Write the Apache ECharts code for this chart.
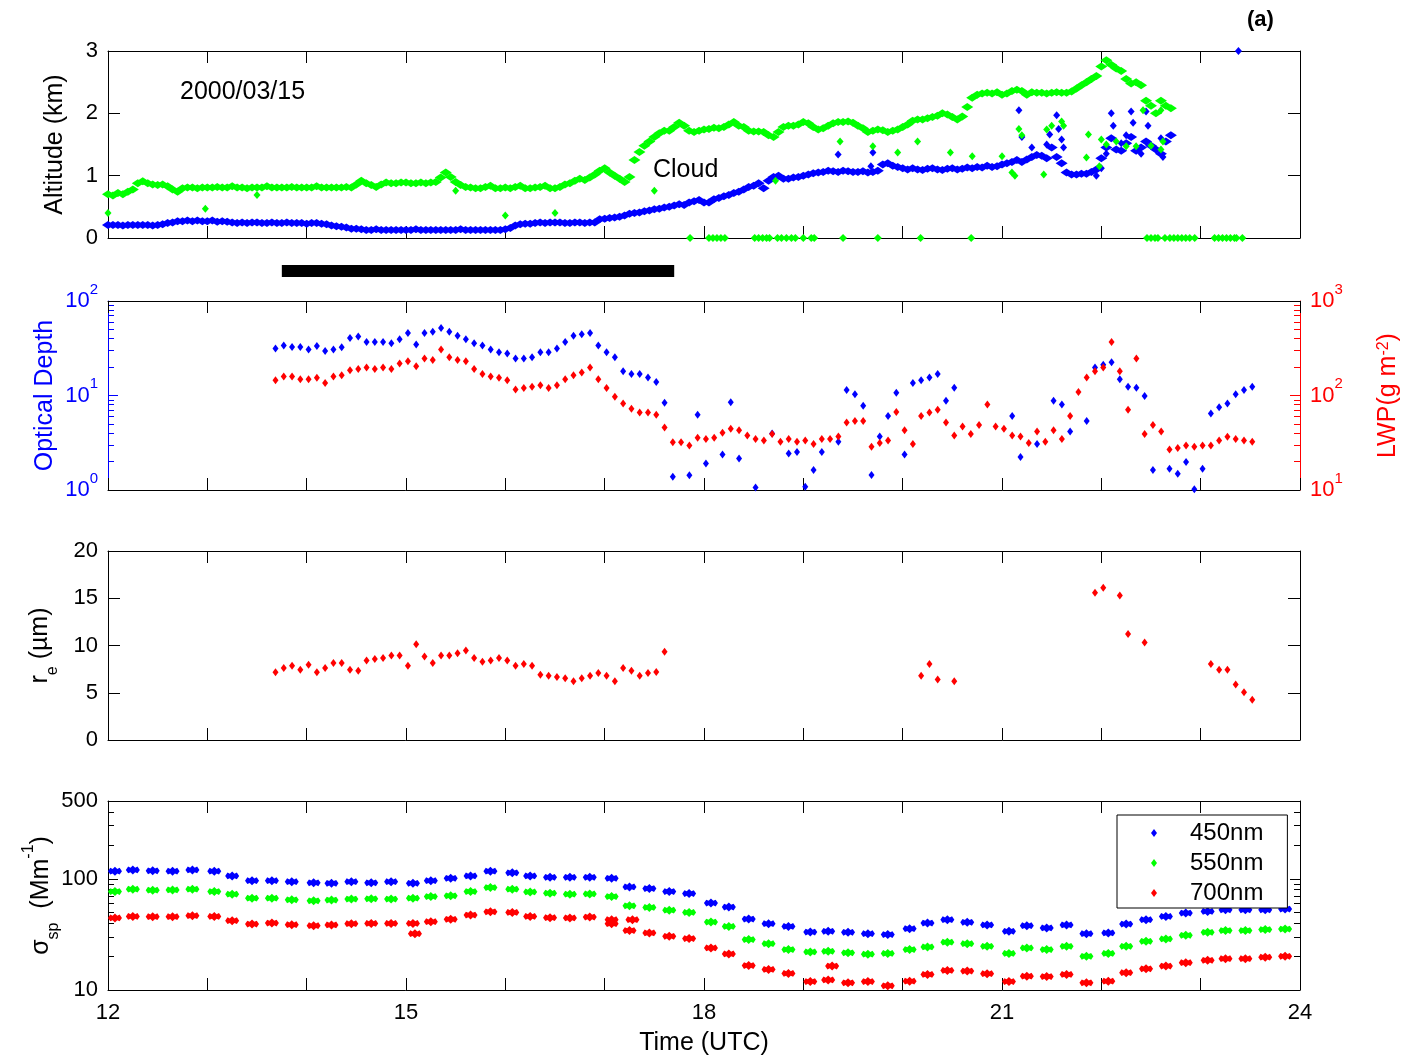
<!DOCTYPE html>
<html>
<head>
<meta charset="utf-8">
<script src="https://cdn.jsdelivr.net/npm/echarts@6/dist/echarts.min.js"></script>
<style>
  html, body { margin: 0; padding: 0; background: #fff; }
  #chart { width: 1423px; height: 1061px; }
</style>
</head>
<body>
<div id="chart"></div>
<script>
// ---------------------------------------------------------------
// Cloud and aerosol time series, 2000/03/15, 12-24 UTC
// ---------------------------------------------------------------

const timeTickLabels = [12, 15, 18, 21, 24];

// (1) Cloud boundaries (km), 3-minute records starting at 12:00 UTC
const altStart = 12.0;
const altStep = 0.05;
const cloudBase = [
  0.21,0.21,0.21,0.20,0.21,0.21,0.21,0.21,0.21,0.20,0.21,0.22,0.24,
  0.25,0.27,0.27,0.28,0.27,0.28,0.27,0.27,0.28,0.26,0.27,0.26,
  0.25,0.24,0.25,0.24,0.25,0.25,0.24,0.24,0.25,0.24,0.24,0.25,0.24,0.24,0.24,0.23,0.24,0.24,0.23,0.22,
  0.20,0.19,0.18,0.17,0.15,0.15,0.14,
  0.13,0.13,0.14,0.13,0.13,0.13,0.13,0.13,0.13,0.13,
  0.14,0.13,0.13,0.13,0.13,0.13,0.13,0.13,0.13,0.14,
  0.13,0.13,0.13,0.13,0.13,0.13,0.13,0.13,0.14,
  0.16,0.20,0.22,0.23,0.23,0.24,0.25,0.24,0.25,0.25,0.25,0.24,0.24,0.25,0.25,0.24,0.25,0.25,
  0.30,0.31,0.32,0.33,0.34,0.36,
  0.39,0.40,0.41,0.43,0.44,0.46,0.47,0.49,0.50,
  0.52,0.54,0.53,0.57,0.59,0.61,
  0.57,0.57,0.62,0.64,0.67,0.69,0.72,0.74,0.78,0.82,0.84,0.88,
  0.80,0.92,0.98,1.00,0.95,0.95,0.97,0.98,1.00,1.02,1.04,1.05,
  1.06,1.08,1.07,1.06,1.08,1.07,1.06,1.06,1.07,1.05,1.06,1.08,
  1.18,1.20,1.16,1.14,1.12,1.10,1.12,1.10,1.09,1.11,1.12,1.10,
  1.09,1.11,1.12,1.10,1.11,1.13,1.12,1.14,1.13,1.16,1.14,1.15,
  1.18,1.20,1.22,1.25,1.22,1.26,1.30,1.33,1.32,1.28,1.45,1.30,
  1.20,1.05,1.02,1.02,1.03,1.03,1.06,1.10,1.28,1.45,1.60,1.42,
  1.40,1.52,1.62,1.40,1.45,1.55,1.48,1.42,1.35,1.55,1.65
];
const cloudTop = [
  0.70,0.68,0.72,0.70,0.74,0.78,
  0.88,0.91,0.88,0.86,0.85,0.86,0.83,0.78,0.74,0.80,
  0.81,0.81,0.80,0.81,0.81,0.81,0.82,0.81,0.81,0.83,0.81,0.81,0.80,0.81,0.81,0.81,0.83,
  0.81,0.81,0.81,0.81,0.82,0.81,0.81,0.81,0.81,0.83,0.81,0.81,0.81,0.81,0.81,0.82,0.81,
  0.86,0.92,0.88,0.85,0.82,0.86,0.89,0.88,0.88,0.89,0.89,0.88,0.88,0.89,0.88,0.89,0.90,0.97,1.05,
  0.98,0.90,0.85,0.82,0.81,0.80,0.80,0.82,0.84,0.80,0.80,0.81,0.80,0.82,0.84,0.80,0.80,0.81,0.82,0.84,0.80,0.80,
  0.82,0.86,0.88,0.92,0.95,0.93,0.97,1.02,1.08,1.12,1.05,1.00,0.95,0.90,
  0.98,1.25,1.38,1.48,1.55,1.62,1.68,1.72,1.72,1.78,1.85,1.80,1.72,1.70,1.72,
  1.74,1.75,1.77,1.76,1.78,1.82,1.86,1.80,1.78,1.72,1.71,1.71,
  1.70,1.65,1.62,1.70,1.78,1.80,1.80,1.82,1.86,1.84,1.78,1.74,
  1.76,1.80,1.84,1.86,1.86,1.87,1.85,1.80,1.76,1.70,1.72,1.74,
  1.73,1.70,1.72,1.74,1.78,1.82,1.88,1.90,1.90,1.92,1.94,1.96,
  2.00,1.98,1.94,1.90,1.95,2.10,2.25,2.30,2.32,2.33,2.32,2.34,
  2.30,2.32,2.36,2.38,2.36,2.30,2.34,2.33,2.33,2.32,2.33,2.34,
  2.33,2.33,2.35,2.40,2.45,2.50,2.55,2.60,2.75,2.85,2.78,2.72,
  2.68,2.55,2.48,2.50,2.45,2.20,2.12,2.00,2.20,2.12,2.08
];
// isolated cloud-base returns [time, km]
const cloudBaseExtra = [
  [19.35,1.34],[19.68,1.15],[19.70,1.37],[21.17,2.05],[21.20,1.62],[21.30,1.45],
  [21.45,1.50],[21.48,1.66],[21.55,1.97],[21.57,1.75],[21.60,1.58],[21.62,1.45],
  [21.95,1.00],[22.00,1.12],[22.05,1.35],[22.10,2.00],[22.12,1.80],[22.20,1.52],
  [22.25,1.65],[22.30,2.03],[22.32,1.85],[22.40,1.35],[22.45,2.03],[22.47,1.80],
  [22.60,1.60],[22.62,1.30],[23.38,3.00]
];
// isolated cloud-top returns [time, km]
const cloudTopExtra = [
  [12.00,0.40],[12.98,0.47],[13.50,0.69],[15.50,0.76],[16.00,0.36],[16.50,0.40],
  [17.50,0.76],[18.72,0.92],[19.37,1.55],[19.70,1.47],[19.95,1.37],[20.15,1.55],
  [20.48,1.37],[20.70,1.31],[21.00,1.31],[21.10,1.05],[21.13,1.00],[21.17,1.75],
  [21.20,1.65],[21.42,1.02],[21.45,1.74],[21.50,1.80],[21.60,1.87],[21.62,1.80],
  [21.85,1.29],[21.87,1.66],[21.98,1.15],[22.00,1.58],[22.05,1.50],[22.15,1.55],
  [22.25,1.47],[22.35,1.47],[22.50,1.48],[22.60,1.42],[22.62,1.55],[22.42,2.05],
  [22.60,2.05]
];
// times where the top detection fell to the ground (0 km)
const cloudTopZeroTimes = [
  17.86,18.05,18.09,18.13,18.17,18.21,18.51,18.55,18.59,18.63,18.66,18.74,18.78,
  18.83,18.88,18.92,19.00,19.08,19.11,19.40,19.75,20.18,20.69,22.46,22.50,22.54,
  22.57,22.64,22.69,22.73,22.77,22.81,22.85,22.89,22.94,23.14,23.18,23.22,23.26,
  23.30,23.34,23.36,23.42
];

// sampling period bar (UTC hours)
const samplingPeriod = [13.75, 17.70];

// (2)/(3) Retrievals on a 5-minute grid starting 13:41 UTC
const retStart = 13.686;
const retStep = 5 / 60;
const opticalDepth = [
  31.4,33.8,32.7,32.7,30.6,33.5,29.6,30.6,32.4,40.7,
  42.0,36.9,36.9,36.9,35.7,39.4,45.9,34.6,45.9,47.4,
  51.9,47.4,43.0,39.4,35.7,33.8,30.6,28.7,27.8,24.6,
  24.6,25.4,28.7,28.7,31.4,36.9,43.0,44.4,45.9,33.8,
  28.7,25.4,18.1,16.9,16.9,15.5,13.9,8.4,1.38,null,
  1.43,6.25,1.91,null,2.38,8.5,2.16,null,1.06,null,
  3.97,null,2.44,2.52,1.08,1.63,2.52,null,3.24,11.4,
  10.3,7.78,1.44,3.69,6.05,10.7,2.38,13.6,14.5,15.5,
  16.9,8.8,12.1,null,null,null,null,null,null,6.05,
  2.23,null,3.06,null,8.8,8.03,4.17,null,5.36,19.8,
  21.1,22.5,14.9,12.4,12.1,9.9,1.63,null,1.68,1.49,
  1.98,1.02,1.68,6.46,7.53,8.23,10.3,11.4,12.4
];
const lwp = [
  145,159,159,149,149,154,136,159,164,185,
  191,198,191,198,191,218,231,204,246,238,
  306,254,238,231,191,169,159,154,145,116,
  120,124,128,120,128,149,164,175,198,149,
  120,96.8,82.3,72.3,66.1,66.1,62.5,45.9,32.1,32.1,
  29.6,35.7,34.6,35.7,40.4,44.5,43.0,37.8,34.6,33.5,
  39.1,32.4,34.6,32.4,33.5,30.6,34.6,34.6,36.9,51.9,
  53.6,53.6,28.7,31.4,33.5,66.7,43.0,30.6,60.5,66.1,
  70.6,51.9,37.8,47.1,39.1,48.6,80.4,47.1,44.5,37.8,
  36.9,31.4,41.7,32.4,43.0,34.6,60.5,109,155,181,
  198,369,181,70.6,246,39.1,48.6,41.7,26.9,27.8,
  29.6,28.7,29.6,29.6,33.5,36.5,34.6,33.5,32.4
];
const effRadius = [
  7.16,7.61,7.86,7.44,7.96,7.16,7.61,8.14,8.14,7.44,
  7.33,8.42,8.56,8.67,8.95,8.95,7.86,10.14,8.84,8.14,
  8.95,8.95,9.19,9.47,8.67,8.28,8.42,8.67,8.42,7.86,
  8.04,7.86,6.91,6.81,6.67,6.53,6.21,6.53,6.81,7.09,
  6.81,6.21,7.61,7.33,6.81,7.09,7.19,9.33,
  null,null,null,null,null,null,null,null,null,null,
  null,null,null,null,null,null,null,null,null,null,
  null,null,null,null,null,null,null,null,null,null,
  6.81,8.04,6.39,null,6.21,
  null,null,null,null,null,null,null,null,null,null,null,null,null,null,null,null,
  15.58,16.11,null,15.30,11.23,null,10.32,
  null,null,null,null,null,null,null,
  8.04,7.44,7.44,5.86,5.05,4.25
];

// (4) Scattering coefficient (Mm^-1), segment mean times
const scatTimes = [
  12.07,12.25,12.45,12.65,12.85,13.07,13.25,13.45,13.65,13.85,
  14.07,14.25,14.45,14.65,14.85,15.07,15.25,15.45,15.65,15.85,
  16.07,16.25,16.45,16.65,16.85,17.07,17.25,17.45,17.65,17.85,
  18.07,18.25,18.45,18.65,18.85,19.07,19.25,19.45,19.65,19.85,
  20.07,20.25,20.45,20.65,20.85,21.07,21.25,21.45,21.65,21.85,
  22.07,22.25,22.45,22.65,22.85,23.07,23.25,23.45,23.65,23.85
];
const scat450 = [
  117,120,118,117,120,117,106,96,96,94,
  92,91,94,92,94,91,96,101,106,117,
  113,106,103,103,103,101,84.5,81.7,76.8,73.6,
  60.4,55.6,43.4,39.5,37.3,33.2,33.7,33.0,32.1,31.5,
  35.6,40.0,42.9,40.6,38.4,33.7,37.9,36.1,38.4,32.1,
  32.6,39.2,42.9,45.9,49.2,50.9,52.6,52.6,52.6,53.4
];
const scat550 = [
  76.8,80.5,78.9,79.4,80.5,76.8,72.6,66.9,66.9,64.7,
  63.4,64.3,65.6,66.1,65.6,66.9,69.2,70.2,76.8,83.4,
  80.5,76.2,74.1,72.6,73.1,69.2,57.1,55.2,52.2,49.8,
  40.8,37.3,28.4,26.1,23.1,22.0,22.3,21.6,21.0,21.3,
  23.1,24.4,26.9,26.1,24.7,21.3,23.9,23.1,24.7,20.1,
  21.3,24.7,27.4,28.8,31.0,33.0,34.2,34.2,34.9,35.3
];
const scat700 = [
  44.4,45.9,45.6,45.6,46.6,45.9,42.0,39.2,40.0,38.6,
  37.9,38.4,39.5,39.7,39.7,39.7,41.1,43.2,47.2,50.5,
  49.8,45.9,44.7,44.4,45.3,42.9,34.2,32.6,30.4,29.0,
  23.9,21.1,16.6,15.3,14.1,11.9,12.3,11.6,11.9,10.9,
  12.0,13.8,15.0,14.8,14.0,11.9,13.3,13.2,13.8,11.6,
  12.0,14.3,15.5,16.4,17.6,18.5,19.1,19.1,19.7,20.1
];
const scat700Extra = [[15.09,32.1],[17.07,39.5],[17.28,42.9],[19.29,16.4]];

// log-axis minor tick positions
const minorTau = [2,3,4,5,6,7,8,9,20,30,40,50,60,70,80,90];
const minorLwp = [20,30,40,50,60,70,80,90,200,300,400,500,600,700,800,900];
const minorScat = [20,30,40,50,60,70,80,90,200,300,400];
const scatLabels = [10, 100, 500];

// ---------------------------------------------------------------
const FF = "'Liberation Sans', Arial, Helvetica, sans-serif";
const BLUE = '#0000ff', GREEN = '#00ff00', RED = '#ff0000', BLACK = '#000000';

function regular(start, step, values) {
  const out = [];
  values.forEach((v, i) => {
    if (v !== null) out.push([+(start + i * step).toFixed(4), v]);
  });
  return out;
}
function paired(times, values) {
  return times.map((t, i) => [t, values[i]]);
}

const grids = [
  { left: 108, right: 123, top: 51,  height: 187 },
  { left: 108, right: 123, top: 255, height: 32 },
  { left: 108, right: 123, top: 301, height: 189 },
  { left: 108, right: 123, top: 551, height: 189 },
  { left: 108, right: 123, top: 801, height: 189 }
];

function timeAxis(gi, position, withLabels) {
  const ax = {
    type: 'value', gridIndex: gi, position, min: 12, max: 24, interval: 1,
    axisLine: { show: true, onZero: false, lineStyle: { color: BLACK, width: 1 } },
    axisTick: { show: true, inside: true, length: 12, lineStyle: { color: BLACK } },
    axisLabel: { show: false },
    splitLine: { show: false }
  };
  if (withLabels) {
    ax.axisLabel = {
      show: true, margin: 12, color: BLACK, fontSize: 22, fontFamily: FF,
      formatter: v => (timeTickLabels.indexOf(v) >= 0 ? String(v) : '')
    };
    ax.name = 'Time (UTC)';
    ax.nameLocation = 'middle';
    ax.nameGap = 41;
    ax.nameMoveOverlap = false;
    ax.nameTextStyle = { fontSize: 25, color: BLACK, fontFamily: FF };
  }
  return ax;
}

function linearY(gi, position, max, interval, labelled, name, nameGap) {
  const ax = {
    type: 'value', gridIndex: gi, position, min: 0, max, interval,
    axisLine: { show: true, onZero: false, lineStyle: { color: BLACK } },
    axisTick: { show: true, inside: true, length: 12, lineStyle: { color: BLACK } },
    axisLabel: labelled ? { margin: 10, color: BLACK, fontSize: 22, fontFamily: FF } : { show: false },
    splitLine: { show: false }
  };
  if (name) {
    ax.name = name.text;
    ax.nameLocation = 'middle';
    ax.nameGap = nameGap;
    ax.nameMoveOverlap = false;
    ax.nameTextStyle = Object.assign({ fontSize: 25, color: BLACK, fontFamily: FF }, name.style || {});
  }
  return ax;
}

function logY(gi, position, min, max, color, opts) {
  const ax = {
    type: 'log', logBase: 10, gridIndex: gi, position, min, max,
    axisLine: { show: !!opts.line, onZero: false, lineStyle: { color } },
    axisTick: { show: true, inside: true, length: opts.tickLength,
                customValues: opts.ticks, lineStyle: { color } },
    axisLabel: { show: false },
    splitLine: { show: false },
    minorTick: { show: false }
  };
  if (opts.label) ax.axisLabel = opts.label;
  if (opts.name) {
    ax.name = opts.name;
    ax.nameLocation = 'middle';
    ax.nameGap = opts.nameGap;
    ax.nameMoveOverlap = false;
    ax.nameTextStyle = opts.nameStyle;
  }
  return ax;
}

function powerLabel(color) {
  return {
    show: true, margin: 10, padding: [0, 0, 8, 0],
    formatter: v => '{b|10}{s|' + Math.round(Math.log10(v)) + '}',
    rich: {
      b: { fontSize: 22, color, fontFamily: FF, padding: [8, 0, 0, 0], verticalAlign: 'top' },
      s: { fontSize: 15, color, fontFamily: FF, verticalAlign: 'top' }
    }
  };
}

function richName(color) {
  return {
    color, fontFamily: FF, fontSize: 25,
    rich: {
      n: { fontSize: 25, lineHeight: 25, color, fontFamily: FF, verticalAlign: 'top', padding: [8, 0, 0, 0] },
      p: { fontSize: 25, lineHeight: 25, color, fontFamily: FF, verticalAlign: 'top' },
      sup: { fontSize: 16, lineHeight: 16, color, fontFamily: FF, verticalAlign: 'top' },
      sub: { fontSize: 16, lineHeight: 16, color, fontFamily: FF, verticalAlign: 'top', padding: [25, 0, 0, 0] },
      sub0: { fontSize: 16, lineHeight: 16, color, fontFamily: FF, verticalAlign: 'top', padding: [17, 0, 0, 0] }
    }
  };
}

const xAxes = [
  timeAxis(0, 'bottom', false), timeAxis(0, 'top', false),
  { type: 'value', gridIndex: 1, min: 12, max: 24, show: false },
  timeAxis(2, 'bottom', false), timeAxis(2, 'top', false),
  timeAxis(3, 'bottom', false), timeAxis(3, 'top', false),
  timeAxis(4, 'bottom', true), timeAxis(4, 'top', false)
];

const yAxes = [
  // 0,1: altitude
  linearY(0, 'left', 3, 1, true, { text: 'Altitude (km)' }, 40),
  linearY(0, 'right', 3, 1, false),
  // 2: sampling bar
  { type: 'value', gridIndex: 1, min: 0, max: 1, show: false },
  // 3-6: optical depth / LWP
  logY(2, 'left', 1, 100, BLUE, {
    line: true, tickLength: 10, ticks: [10],
    label: powerLabel(BLUE),
    name: 'Optical Depth', nameGap: 50,
    nameStyle: { fontSize: 25, color: BLUE, fontFamily: FF }
  }),
  logY(2, 'left', 1, 100, BLUE, { tickLength: 6, ticks: minorTau }),
  logY(2, 'right', 10, 1000, RED, {
    line: true, tickLength: 10, ticks: [100],
    label: powerLabel(RED),
    name: '{p|LWP(g m}{sup|-2}{p|)}', nameGap: 76,
    nameStyle: richName(RED)
  }),
  logY(2, 'right', 10, 1000, RED, { tickLength: 6, ticks: minorLwp }),
  // 7,8: effective radius
  linearY(3, 'left', 20, 5, true,
    { text: '{p|r}{sub0|e}{p| (\u00b5m)}', style: richName(BLACK) }, 55),
  linearY(3, 'right', 20, 5, false),
  // 9-12: scattering coefficient
  logY(4, 'left', 10, 500, BLACK, {
    line: true, tickLength: 10, ticks: [100],
    label: { show: true, margin: 10, color: BLACK, fontSize: 22, fontFamily: FF,
             customValues: scatLabels },
    name: '{n|\u03c3}{sub|sp}{n|  (Mm}{sup|-1}{n|)}', nameGap: 62,
    nameStyle: richName(BLACK)
  }),
  logY(4, 'left', 10, 500, BLACK, { tickLength: 6, ticks: minorScat }),
  logY(4, 'right', 10, 500, BLACK, { line: true, tickLength: 10, ticks: [100] }),
  logY(4, 'right', 10, 500, BLACK, { tickLength: 6, ticks: minorScat })
];

const dotSymbol = 'diamond';
const segSymbol = 'path://M0,4L2,1L4,2L6,0L8,2L10,1L12,4L10,7L8,6L6,8L4,6L2,7Z';

function scatter(name, xi, yi, data, color, size, symbol) {
  return {
    name, type: 'scatter', xAxisIndex: xi, yAxisIndex: yi, data,
    symbol: symbol || dotSymbol, symbolSize: size, clip: false,
    itemStyle: { color, opacity: 1 }, silent: true, animation: false
  };
}

const series = [
  scatter('Cloud base', 0, 0, regular(altStart, altStep, cloudBase), BLUE, [12, 8]),
  scatter('Cloud base ', 0, 0, cloudBaseExtra, BLUE, [7, 8]),
  scatter('Cloud top', 0, 0, regular(altStart, altStep, cloudTop), GREEN, [12, 8]),
  scatter('Cloud top ', 0, 0, cloudTopExtra, GREEN, [7, 8]),
  scatter('Cloud top  ', 0, 0, cloudTopZeroTimes.map(t => [t, 0]), GREEN, [8, 8]),
  {
    name: 'Sampling', type: 'line', xAxisIndex: 2, yAxisIndex: 2,
    data: samplingPeriod.map(t => [t, 0.5]), symbol: 'none', silent: true,
    lineStyle: { color: BLACK, width: 12, cap: 'butt' }, animation: false
  },
  scatter('Optical depth', 3, 3, regular(retStart, retStep, opticalDepth), BLUE, [6, 8]),
  scatter('LWP', 3, 5, regular(retStart, retStep, lwp), RED, [6, 8]),
  scatter('re', 5, 7, regular(retStart, retStep, effRadius), RED, [6, 8]),
  scatter('450nm', 7, 9, paired(scatTimes, scat450), BLUE, [14, 9], segSymbol),
  scatter('550nm', 7, 9, paired(scatTimes, scat550), GREEN, [14, 9], segSymbol),
  scatter('700nm', 7, 9, paired(scatTimes, scat700).concat(scat700Extra), RED, [14, 9], segSymbol)
];

const option = {
  backgroundColor: '#ffffff',
  animation: false,
  textStyle: { fontFamily: FF },
  grid: grids,
  xAxis: xAxes,
  yAxis: yAxes,
  legend: {
    data: [
      { name: '450nm', icon: 'diamond' },
      { name: '550nm', icon: 'diamond' },
      { name: '700nm', icon: 'diamond' }
    ],
    orient: 'vertical', left: 1117, top: 815,
    itemWidth: 6, itemHeight: 8, itemGap: 0,
    padding: [3, 24, 0, 34],
    backgroundColor: '#ffffff', borderColor: BLACK, borderWidth: 1, borderRadius: 0,
    selectedMode: false,
    textStyle: { fontSize: 24, color: BLACK, fontFamily: FF, lineHeight: 30, padding: [0, 0, 0, 28] }
  },
  graphic: [
    { type: 'text', left: 180, top: 80, silent: true,
      style: { text: '2000/03/15', fontSize: 25, fontFamily: FF, fill: BLACK } },
    { type: 'text', left: 653, top: 158, silent: true,
      style: { text: 'Cloud', fontSize: 25, fontFamily: FF, fill: BLACK } },
    { type: 'text', left: 1247, top: 9, silent: true,
      style: { text: '(a)', fontSize: 22, fontWeight: 'bold', fontFamily: FF, fill: BLACK } }
  ],
  series
};

const chart = echarts.init(document.getElementById('chart'), null, { renderer: 'canvas' });
chart.setOption(option);
</script>
</body>
</html>
